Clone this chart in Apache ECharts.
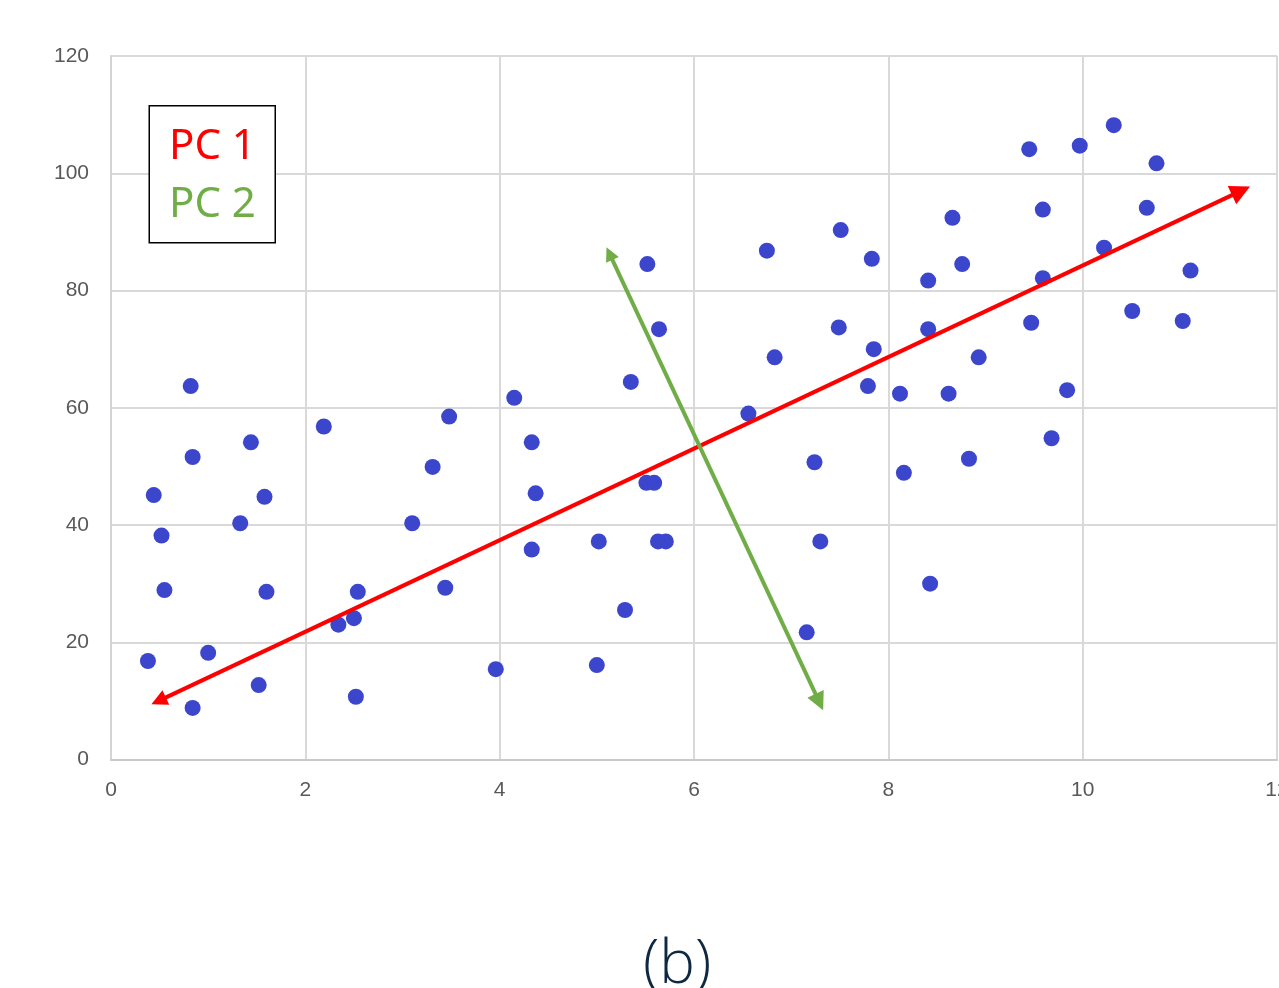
<!DOCTYPE html>
<html>
<head>
<meta charset="utf-8">
<script src="https://cdn.jsdelivr.net/npm/echarts@6/dist/echarts.min.js"></script>
<style>html,body{margin:0;padding:0;background:#fff;}#main{width:1279px;height:988px;}</style>
</head>
<body>
<div id="main"></div>
<script>
const xs = [0.82,2.19,1.44,0.84,0.44,1.58,1.33,3.10,0.52,0.55,1.60,2.54,2.50,2.34,0.38,1.00,1.52,0.84,2.52,
  5.52,6.75,7.51,5.64,7.49,6.83,5.35,4.15,3.48,6.56,4.33,3.31,7.24,5.51,5.59,4.37,5.02,5.63,5.71,7.30,4.33,3.44,5.29,7.16,3.96,5.00,
  10.32,9.45,9.97,10.76,9.59,10.66,8.66,7.83,8.76,10.22,8.41,9.59,11.11,8.41,9.47,10.51,11.03,7.85,8.93,7.79,8.12,8.62,9.84,9.68,8.83,8.16,8.43];
const ys = [63.7,56.8,54.1,51.6,45.1,44.8,40.3,40.3,38.2,28.9,28.6,28.6,24.1,23.0,16.8,18.2,12.7,8.8,10.7,
  84.5,86.8,90.3,73.4,73.7,68.6,64.4,61.7,58.5,59.0,54.1,49.9,50.7,47.2,47.2,45.4,37.2,37.2,37.2,37.2,35.8,29.3,25.5,21.7,15.4,16.1,
  108.2,104.1,104.7,101.7,93.8,94.1,92.4,85.4,84.5,87.3,81.7,82.1,83.4,73.4,74.5,76.5,74.8,70.0,68.6,63.7,62.4,62.4,63.0,54.8,51.3,48.9,30.0];
const pc1Line = [[0.49, 10.0], [11.63, 97.0]];
const pc2Line = [[5.13, 86.3], [7.29, 9.8]];
const legendLabels = ['PC 1', 'PC 2'];
const caption = '(b)';

const points = xs.map((x, i) => [x, ys[i]]);
const chart = echarts.init(document.getElementById('main'), null, {renderer: 'canvas'});
chart.setOption({
  animation: false,
  backgroundColor: '#ffffff',
  grid: {left: 111, top: 56, right: 2, bottom: 228.5, containLabel: false, outerBoundsMode: 'none'},
  xAxis: {
    type: 'value', min: 0, max: 12, interval: 2,
    axisLine: {show: true, lineStyle: {color: '#c9c9c9', width: 2}},
    axisTick: {show: false},
    splitLine: {show: true, lineStyle: {color: '#d9d9d9', width: 2}},
    axisLabel: {color: '#595959', fontSize: 21, margin: 20, fontFamily: 'Liberation Sans', hideOverlap: false}
  },
  yAxis: {
    type: 'value', min: 0, max: 120, interval: 20,
    axisLine: {show: true, lineStyle: {color: '#d4d4d4', width: 2}},
    axisTick: {show: false},
    splitLine: {show: true, lineStyle: {color: '#d9d9d9', width: 2}},
    axisLabel: {color: '#595959', fontSize: 21, margin: 22, fontFamily: 'Liberation Sans'}
  },
  series: [
    {
      type: 'scatter', data: points, symbolSize: 16,
      itemStyle: {color: '#3c46cc', opacity: 1}, z: 2
    },
    {
      type: 'lines', coordinateSystem: 'cartesian2d', z: 3,
      symbol: ['triangle', 'triangle'], symbolSize: [16, 20],
      lineStyle: {color: '#ff0000', width: 4, opacity: 1, curveness: 0},
      data: [{coords: pc1Line}]
    },
    {
      type: 'lines', coordinateSystem: 'cartesian2d', z: 4,
      symbol: ['triangle', 'triangle'], symbolSize: [14, 18],
      lineStyle: {color: '#70ad47', width: 4, opacity: 1, curveness: 0},
      data: [{coords: pc2Line}]
    }
  ],
  graphic: [
    {type: 'rect', left: 148.5, top: 105, shape: {width: 126, height: 137},
     style: {fill: '#ffffff', stroke: '#000000', lineWidth: 1.5}, z: 10},
    {type: 'text', left: 169, top: 126, z: 11,
     style: {text: legendLabels[0], fill: '#ff0000', font: '42px "Noto Sans"'}},
    {type: 'text', left: 169, top: 184, z: 11,
     style: {text: legendLabels[1], fill: '#70ad47', font: '42px "Noto Sans"'}},
    {type: 'text', left: 643, top: 936, z: 11,
     style: {text: caption, fill: '#0e2841', font: '300 60px "Open Sans"'}}
  ]
});
</script>
</body>
</html>
